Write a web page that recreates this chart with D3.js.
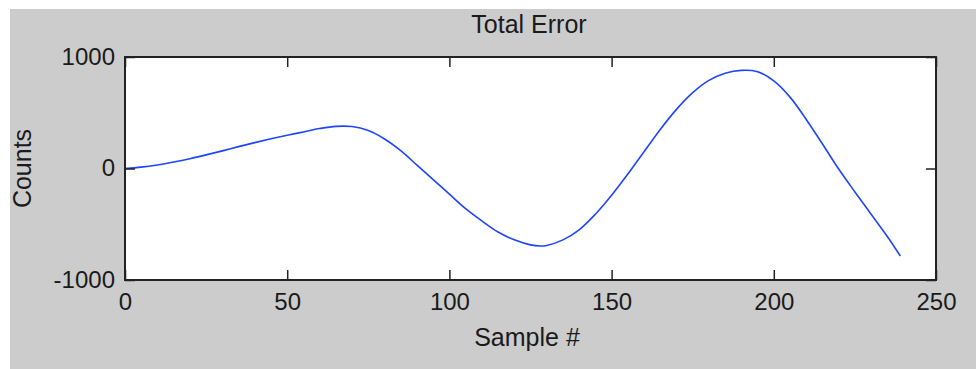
<!DOCTYPE html>
<html><head><meta charset="utf-8">
<script src="https://cdn.jsdelivr.net/npm/d3@7"></script>
<style>
html,body{margin:0;padding:0;background:#fff;}
svg{display:block;}
text{font-family:"Liberation Sans",Arial,sans-serif;fill:#1a1a1a;}
</style></head>
<body><svg id="c" width="976" height="369"></svg>
<script>
const title = "Total Error";
const xLabel = "Sample #";
const yLabel = "Counts";
const xTicks = [0, 50, 100, 150, 200, 250];
const yTicks = [-1000, 0, 1000];
const samples = [0,5,10,15,20,25,30,35,40,45,50,55,60,65,70,75,80,85,90,95,100,105,110,115,120,125,128,130,135,140,145,150,155,160,165,170,175,180,185,190,195,200,205,210,215,220,225,230,235,239];
const counts  = [0,12,32,58,88,122,158,196,232,266,298,328,358,378,376,340,265,160,30,-100,-230,-360,-470,-570,-640,-685,-695,-690,-640,-550,-410,-240,-50,150,350,530,680,790,855,880,868,785,640,440,220,-5,-210,-410,-610,-785];

const svg = d3.select("#c");
svg.append("rect").attr("x",10).attr("y",9).attr("width",966).attr("height",360).attr("fill","#cccccc");

const L=125, R=936, T=57, B=280;
const x = d3.scaleLinear().domain([0,250]).range([L,R]);
const y = d3.scaleLinear().domain([-1000,1000]).range([B,T]);

svg.append("rect").attr("x",L).attr("y",T).attr("width",R-L).attr("height",B-T).attr("fill","#fff");

const line = d3.line().x((d,i)=>x(samples[i])).y(d=>y(d)).curve(d3.curveCatmullRom.alpha(0.5));
svg.append("path").datum(counts).attr("d",line).attr("fill","none").attr("stroke","#1f44ff").attr("stroke-width",1.6);

const fs = 24, fl = 25;
const fmt = d => String(d);
const gx = svg.append("g").attr("transform",`translate(0,${B})`)
  .call(d3.axisBottom(x).tickValues(xTicks).tickFormat(fmt).tickSizeInner(-10).tickSizeOuter(0).tickPadding(13));
const gxt = svg.append("g").attr("transform",`translate(0,${T})`)
  .call(d3.axisTop(x).tickValues(xTicks).tickFormat("").tickSizeInner(-10).tickSizeOuter(0));
const gy = svg.append("g").attr("transform",`translate(${L},0)`)
  .call(d3.axisLeft(y).tickValues(yTicks).tickFormat(fmt).tickSizeInner(-10).tickSizeOuter(0).tickPadding(-1));
const gyr = svg.append("g").attr("transform",`translate(${R},0)`)
  .call(d3.axisRight(y).tickValues(yTicks).tickFormat("").tickSizeInner(-10).tickSizeOuter(0));
[gx,gxt,gy,gyr].forEach(g=>{
  g.select(".domain").remove();
  g.selectAll(".tick line").attr("stroke","#222").attr("stroke-width",1.5);
  g.selectAll("text").attr("font-size",fs).attr("fill","#1a1a1a").attr("font-family","Liberation Sans, Arial, sans-serif");
});
gx.selectAll(".tick text").attr("dy","0.71em");
gy.selectAll(".tick text").attr("x",-10).attr("dy","0.3em");
svg.append("rect").attr("x",L).attr("y",T).attr("width",R-L).attr("height",B-T).attr("fill","none").attr("stroke","#222").attr("stroke-width",2);

svg.append("text").attr("x",529).attr("y",33).attr("text-anchor","middle").attr("font-size",fl).text(title);
svg.append("text").attr("x",527).attr("y",346).attr("text-anchor","middle").attr("font-size",fl).text(xLabel);
svg.append("text").attr("transform",`translate(31,${(T+B)/2}) rotate(-90)`).attr("text-anchor","middle").attr("font-size",fl).text(yLabel);
</script></body></html>
